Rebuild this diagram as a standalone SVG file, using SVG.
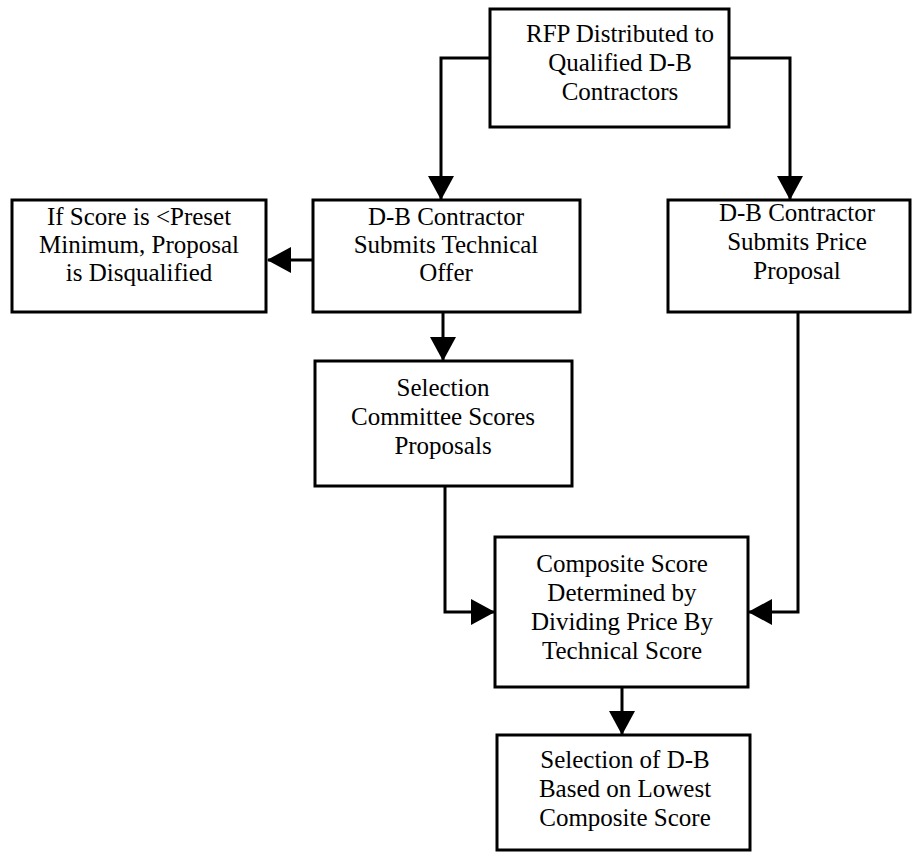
<svg xmlns="http://www.w3.org/2000/svg" width="913" height="859" viewBox="0 0 913 859">
<style>
.box{fill:#fff;stroke:#000;stroke-width:3}
.t{font-family:"Liberation Serif","Times New Roman",serif;font-size:25px;fill:#000;text-anchor:middle}
.c{fill:none;stroke:#000;stroke-width:3}
</style>
<defs>
<marker id="ah" viewBox="0 0 24 26" refX="23" refY="13" markerWidth="24" markerHeight="26" markerUnits="userSpaceOnUse" orient="auto">
<path d="M0,0 L24,13 L0,26 z" fill="#000"/>
</marker>
</defs>
<rect width="913" height="859" fill="#fff"/>
<g id="connectors">
<path class="c" d="M490,58 H441 V199" marker-end="url(#ah)"/>
<path class="c" d="M729,58 H790 V199" marker-end="url(#ah)"/>
<path class="c" d="M313,260 H268" marker-end="url(#ah)"/>
<path class="c" d="M443,313 V360" marker-end="url(#ah)"/>
<path class="c" d="M445,486 V612 H494" marker-end="url(#ah)"/>
<path class="c" d="M798,312 V612 H749" marker-end="url(#ah)"/>
<path class="c" d="M622,687 V734" marker-end="url(#ah)"/>
</g>
<g id="n1">
<rect class="box" x="490" y="9" width="239" height="118"/>
<text class="t" x="620" y="42">RFP Distributed to</text>
<text class="t" x="620" y="71">Qualified D-B</text>
<text class="t" x="620" y="100">Contractors</text>
</g>
<g id="n2">
<rect class="box" x="313" y="200" width="267" height="112"/>
<text class="t" x="446" y="225">D-B Contractor</text>
<text class="t" x="446" y="253">Submits Technical</text>
<text class="t" x="446" y="281">Offer</text>
</g>
<g id="n3">
<rect class="box" x="12" y="200" width="254" height="112"/>
<text class="t" x="139" y="225">If Score is &lt;Preset</text>
<text class="t" x="139" y="253">Minimum, Proposal</text>
<text class="t" x="139" y="281">is Disqualified</text>
</g>
<g id="n4">
<rect class="box" x="668" y="200" width="242" height="112"/>
<text class="t" x="797" y="221">D-B Contractor</text>
<text class="t" x="797" y="250">Submits Price</text>
<text class="t" x="797" y="279">Proposal</text>
</g>
<g id="n5">
<rect class="box" x="315" y="361" width="257" height="125"/>
<text class="t" x="443" y="396">Selection</text>
<text class="t" x="443" y="425">Committee Scores</text>
<text class="t" x="443" y="454">Proposals</text>
</g>
<g id="n6">
<rect class="box" x="495" y="537" width="253" height="150"/>
<text class="t" x="622" y="572">Composite Score</text>
<text class="t" x="622" y="601">Determined by</text>
<text class="t" x="622" y="630">Dividing Price By</text>
<text class="t" x="622" y="659">Technical Score</text>
</g>
<g id="n7">
<rect class="box" x="497" y="735" width="253" height="115"/>
<text class="t" x="625" y="768">Selection of D-B</text>
<text class="t" x="625" y="797">Based on Lowest</text>
<text class="t" x="625" y="826">Composite Score</text>
</g>
</svg>
